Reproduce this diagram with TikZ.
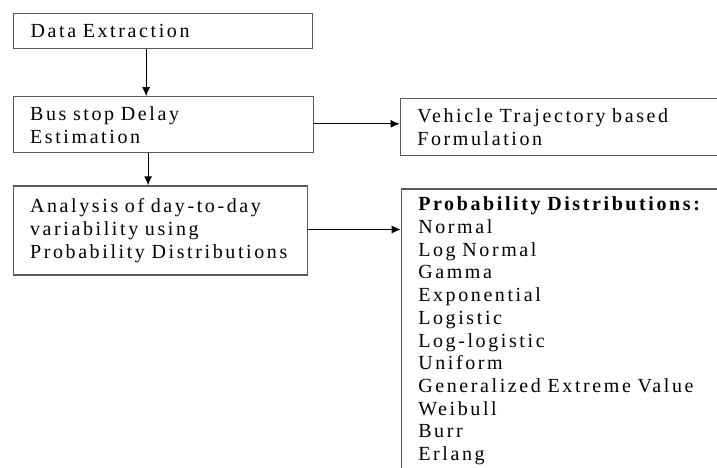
\documentclass[tikz,border=0pt]{standalone}
\usepackage{fontspec}
\setmainfont{Liberation Serif}[LetterSpace=13]
\usepackage{tikz}
\usetikzlibrary{arrows.meta,positioning}
\tikzset{
  basic/.style = {draw=black!65, line width=1.2pt, rectangle, align=left,
                  inner xsep=17pt, inner ysep=0pt,
                  font=\fontsize{20}{23}\selectfont},
  first/.style = {basic, anchor=north west},
  list/.style  = {basic, anchor=north west, inner ysep=8pt,
                  font=\fontsize{20}{22.7}\selectfont}
}

\begin{document}
\begin{tikzpicture}[>={Latex[length=9pt,width=8pt]}, line width=1.2pt]
\useasboundingbox (0,0) rectangle (717pt,-468pt);
\clip (0,0) rectangle (717pt,-468pt);

% left column
\node[first, minimum width=299pt, minimum height=35pt, text width=265pt]
  (extract) at (13pt,-13pt) {Data Extraction};
\node[basic, minimum width=300pt, minimum height=56pt, text width=266pt,
  below=47pt of extract] (delay) {Bus stop Delay\\Estimation};
\node[basic, minimum width=294pt, minimum height=89pt, text width=260pt,
  below=32pt of delay, xshift=-3pt] (analysis)
  {Analysis of day-to-day\\variability using\\Probability Distributions};

% right column, runs off the page
\node[basic, minimum width=360pt, minimum height=57pt, text width=326pt,
  right=86pt of delay, yshift=-2.5pt] (traj)
  {Vehicle Trajectory based\\Formulation};
\node[list, minimum width=360pt, text width=326pt, inner xsep=16pt,
  right=93pt of analysis.north east, anchor=north west, yshift=-3pt] (dists)
  {\textbf{Probability Distributions:}\\Normal\\Log Normal\\Gamma\\Exponential\\Logistic\\Log-logistic\\Uniform\\Generalized Extreme Value\\Weibull\\Burr\\Erlang};

% arrows
\draw[->] ([xshift=-17pt]extract.south) -- ([xshift=-17pt]delay.north);
\draw[->] ([xshift=-15pt]delay.south) -- ([xshift=-15pt]delay.south |- analysis.north);
\draw[->] ([yshift=1pt]delay.east) -- ([yshift=1pt]delay.east -| traj.west);
\draw[->] ([yshift=1pt]analysis.east) -- ([yshift=1pt]analysis.east -| dists.west);

\end{tikzpicture}
\end{document}
